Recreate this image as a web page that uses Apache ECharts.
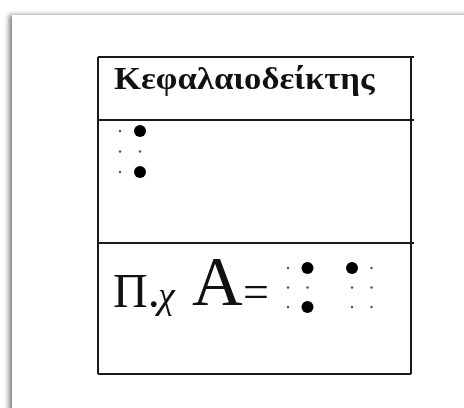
<!DOCTYPE html>
<html>
<head>
<meta charset="utf-8">
<script src="https://cdn.jsdelivr.net/npm/echarts@6/dist/echarts.min.js"></script>
<style>
  html, body { margin: 0; padding: 0; background: #fff; }
  #chart { width: 464px; height: 408px; }
</style>
</head>
<body>
<div id="chart"></div>
<script>
// texts of the table rows
const headerText = 'Κεφαλαιοδείκτης'
const exampleParts = ['Π.', 'χ', 'Α', '=']

// braille cells, as lists of raised dots (1-3 left column, 4-6 right column)
const signCells = [[4, 6]]
const exampleCells = [[4, 6], [1]]

// layout, in pixels
const W = 464, H = 408
const table = { left: 98, right: 411, rows: [57, 120, 243, 374] }
const signBox = { x: 120, y: 131, dx: 20, dy: 20.5, cell: 64 }
const exampleBox = { x: 288, y: 268, dx: 19.5, dy: 19.5, cell: 64 }

const dotsOf = (cells, box) => {
  const raised = [], flat = []
  cells.forEach((cell, ci) => {
    for (let d = 1; d <= 6; d++) {
      const col = d > 3 ? 1 : 0
      const row = (d - 1) % 3
      const p = [box.x + ci * box.cell + col * box.dx, box.y + row * box.dy]
      if (cell.includes(d)) raised.push(p)
      else flat.push(p)
    }
  })
  return { raised, flat }
}

const a = dotsOf(signCells, signBox)
const b = dotsOf(exampleCells, exampleBox)

const line = (x1, y1, x2, y2) => ({
  type: 'line',
  shape: { x1, y1, x2, y2 },
  style: { stroke: '#1a1a1a', lineWidth: 2 },
  z: 1
})

const serif = '"Liberation Serif", "DejaVu Serif", serif'
const text = (t, x, y, size, extra, props) => Object.assign({
  type: 'text',
  x, y,
  style: Object.assign({
    text: t,
    font: `${size}px ${serif}`,
    fill: '#111',
    verticalAlign: 'middle'
  }, extra || {}),
  z: 3
}, props || {})

const chart = echarts.init(document.getElementById('chart'), null, { renderer: 'canvas' })

chart.setOption({
  backgroundColor: '#fff',
  animation: false,
  grid: { left: 0, right: 0, top: 0, bottom: 0 },
  xAxis: { type: 'value', min: 0, max: W, show: false },
  yAxis: { type: 'value', min: 0, max: H, inverse: true, show: false },
  graphic: [
    {
      type: 'rect',
      shape: { x: 12, y: 15, width: W + 20, height: H + 20 },
      style: {
        fill: '#fff',
        shadowBlur: 5,
        shadowOffsetX: -3,
        shadowColor: 'rgba(0,0,0,0.5)'
      },
      z: 0
    },
    line(table.left, table.rows[0], 414, table.rows[0]),
    line(table.left, table.rows[1], 414, table.rows[1]),
    line(table.left, table.rows[2], 414, table.rows[2]),
    line(table.left, table.rows[3], table.right, table.rows[3]),
    line(table.left, table.rows[0], table.left, table.rows[3]),
    line(table.right, table.rows[0], table.right, table.rows[3]),
    text(headerText, 114, 81, 32, { font: `bold 32px ${serif}` }, { scaleX: 1.085 }),
    text(exampleParts[0], 113, 294, 48),
    text(exampleParts[1], 158, 298, 38, { font: `italic 38px ${serif}` }),
    text(exampleParts[2], 192, 287, 70),
    text(exampleParts[3], 243, 295, 46)
  ],
  series: [
    {
      type: 'scatter',
      data: a.raised.concat(b.raised),
      symbolSize: 12,
      itemStyle: { color: '#000', opacity: 1 },
      z: 4
    },
    {
      type: 'scatter',
      data: a.flat.concat(b.flat),
      symbolSize: 2.5,
      itemStyle: { color: '#555', opacity: 1 },
      z: 4
    }
  ]
})
</script>
</body>
</html>
